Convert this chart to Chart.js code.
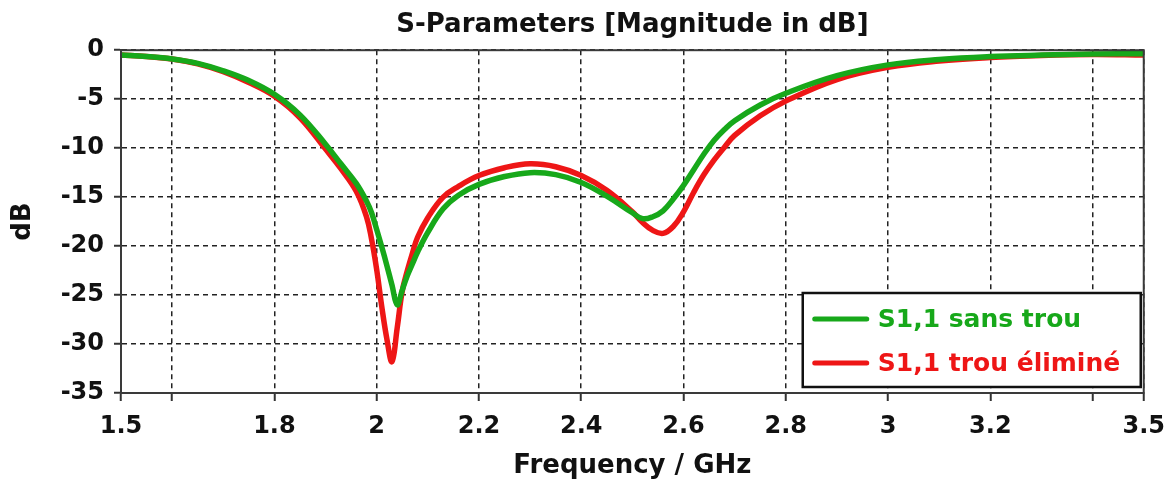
<!DOCTYPE html>
<html>
<head>
<meta charset="utf-8">
<script src="https://cdn.jsdelivr.net/npm/chart.js@4.4.1/dist/chart.umd.min.js"></script>
<style>
  html, body { margin: 0; padding: 0; background: #fff; }
  #wrap { width: 1176px; height: 486px; }
</style>
</head>
<body>
<div id="wrap"><canvas id="sparams"></canvas></div>
<script>
// frequency points (GHz)
const freqs = [1.5, 1.55, 1.6, 1.65, 1.7, 1.75, 1.8, 1.85, 1.9, 1.93, 1.96, 1.98, 1.99,
  2.0, 2.01, 2.02, 2.03, 2.04, 2.05, 2.06, 2.07, 2.08, 2.1, 2.13, 2.16, 2.2,
  2.25, 2.3, 2.35, 2.4, 2.45, 2.5, 2.52, 2.54, 2.56, 2.58, 2.6, 2.62, 2.64, 2.66, 2.68, 2.7,
  2.75, 2.8, 2.9, 3.0, 3.1, 3.2, 3.3, 3.4, 3.5];

// S1,1 sans trou (dB)
const s11Sans = [-0.5, -0.65, -0.9, -1.35, -2.1, -3.1, -4.5, -6.6, -9.6, -11.6, -13.6, -15.4, -16.6,
  -18.3, -20.1, -22.0, -24.0, -26.0, -24.5, -23.0, -21.8, -20.6, -18.6, -16.2, -14.8, -13.7,
  -12.9, -12.5, -12.7, -13.5, -14.9, -16.6, -17.2, -17.0, -16.4, -15.2, -13.8, -12.2, -10.6, -9.2, -8.1, -7.2,
  -5.6, -4.4, -2.6, -1.5, -0.95, -0.65, -0.5, -0.4, -0.35];

// S1,1 trou éliminé (dB)
const s11Elimine = [-0.5, -0.65, -0.9, -1.4, -2.2, -3.3, -4.7, -6.9, -10.1, -12.1, -14.4, -17.0, -19.3,
  -22.4, -26.2, -29.5, -31.8, -28.4, -24.6, -22.5, -20.7, -19.1, -17.1, -15.0, -13.9, -12.8,
  -12.0, -11.6, -11.9, -12.8, -14.3, -16.5, -17.6, -18.4, -18.7, -18.0, -16.5, -14.5, -12.7, -11.2, -9.9, -8.7,
  -6.7, -5.2, -3.0, -1.75, -1.1, -0.75, -0.55, -0.45, -0.5];

const seriesLabels = ['S1,1 sans trou', 'S1,1 trou éliminé'];
const seriesColors = ['#17a81a', '#ee1616'];

// x grid positions and which of them carry a label
const xGridValues = [1.5, 1.6, 1.8, 2.0, 2.2, 2.4, 2.6, 2.8, 3.0, 3.2, 3.4, 3.5];
const xTickLabels = ['1.5', '1.8', '2', '2.2', '2.4', '2.6', '2.8', '3', '3.2', '3.5'];

const FONT = '"DejaVu Sans", Verdana, sans-serif';

const toPoints = (ys) => freqs.map((f, i) => ({ x: f, y: ys[i] }));

// box around the plot + legend inside the plot area
const framePlugin = {
  id: 'frame',
  afterDraw(chart) {
    const { ctx, chartArea: a } = chart;
    ctx.save();
    ctx.strokeStyle = '#3a3a3a';
    ctx.lineWidth = 2;
    ctx.strokeRect(a.left, a.top, a.right - a.left, a.bottom - a.top);

    // legend box
    const w = 338, h = 94;
    const x0 = a.right - 3 - w, y0 = a.bottom - 6 - h;
    ctx.fillStyle = '#fff';
    ctx.fillRect(x0, y0, w, h);
    ctx.strokeStyle = '#111';
    ctx.lineWidth = 2.5;
    ctx.strokeRect(x0, y0, w, h);
    ctx.font = 'bold 25px ' + FONT;
    ctx.textBaseline = 'middle';
    chart.data.datasets.forEach((ds, i) => {
      const yy = y0 + 26 + i * 44;
      ctx.strokeStyle = ds.borderColor;
      ctx.lineWidth = 5;
      ctx.lineCap = 'round';
      ctx.beginPath();
      ctx.moveTo(x0 + 12, yy);
      ctx.lineTo(x0 + 64, yy);
      ctx.stroke();
      ctx.fillStyle = ds.borderColor;
      ctx.fillText(ds.label, x0 + 75, yy + 1);
    });
    ctx.restore();
  }
};

new Chart(document.getElementById('sparams'), {
  type: 'line',
  data: {
    datasets: [
      {
        label: seriesLabels[0],
        data: toPoints(s11Sans),
        borderColor: seriesColors[0],
        borderWidth: 5.5,
        pointRadius: 0,
        tension: 0.4
      },
      {
        label: seriesLabels[1],
        data: toPoints(s11Elimine),
        borderColor: seriesColors[1],
        borderWidth: 5.5,
        pointRadius: 0,
        tension: 0.4
      }
    ]
  },
  options: {
    responsive: true,
    maintainAspectRatio: false,
    animation: false,
    layout: { padding: { left: 0, right: 31, top: 0, bottom: 0 } },
    plugins: {
      legend: { display: false },
      tooltip: { enabled: false },
      title: {
        display: true,
        fullSize: false,
        text: 'S-Parameters [Magnitude in dB]',
        color: '#111',
        font: { family: FONT, size: 26, weight: 'bold' },
        padding: { top: 10, bottom: 9 }
      }
    },
    scales: {
      x: {
        type: 'linear',
        min: 1.5,
        max: 3.5,
        afterBuildTicks: (scale) => { scale.ticks = xGridValues.map(v => ({ value: v })); },
        afterFit: (scale) => { scale.height = 93; },
        ticks: {
          autoSkip: false,
          maxRotation: 0,
          padding: 11,
          color: '#111',
          font: { family: FONT, size: 24, weight: 'bold' },
          callback: (v) => {
            const s = String(+Number(v).toFixed(1));
            return xTickLabels.includes(s) ? s : '';
          }
        },
        grid: {
          color: '#222',
          lineWidth: 1.5,
          tickLength: 8,
          tickColor: '#333',
          tickWidth: 2
        },
        border: { display: true, color: '#3a3a3a', width: 2, dash: [5, 4] },
        title: {
          display: true,
          text: 'Frequency / GHz',
          color: '#111',
          font: { family: FONT, size: 26, weight: 'bold' },
          padding: { top: 0, bottom: 4 }
        }
      },
      y: {
        min: -35,
        max: 0,
        afterFit: (scale) => { scale.width = 121; },
        ticks: {
          stepSize: 5,
          padding: 10,
          color: '#111',
          font: { family: FONT, size: 24, weight: 'bold' }
        },
        grid: {
          color: '#222',
          lineWidth: 1.5,
          tickLength: 7,
          tickColor: '#333',
          tickWidth: 2
        },
        border: { display: true, color: '#3a3a3a', width: 2, dash: [5, 4] },
        title: {
          display: true,
          text: 'dB',
          color: '#111',
          font: { family: FONT, size: 26, weight: 'bold' },
          padding: { top: 8, bottom: 0 }
        }
      }
    }
  },
  plugins: [framePlugin]
});
</script>
</body>
</html>
